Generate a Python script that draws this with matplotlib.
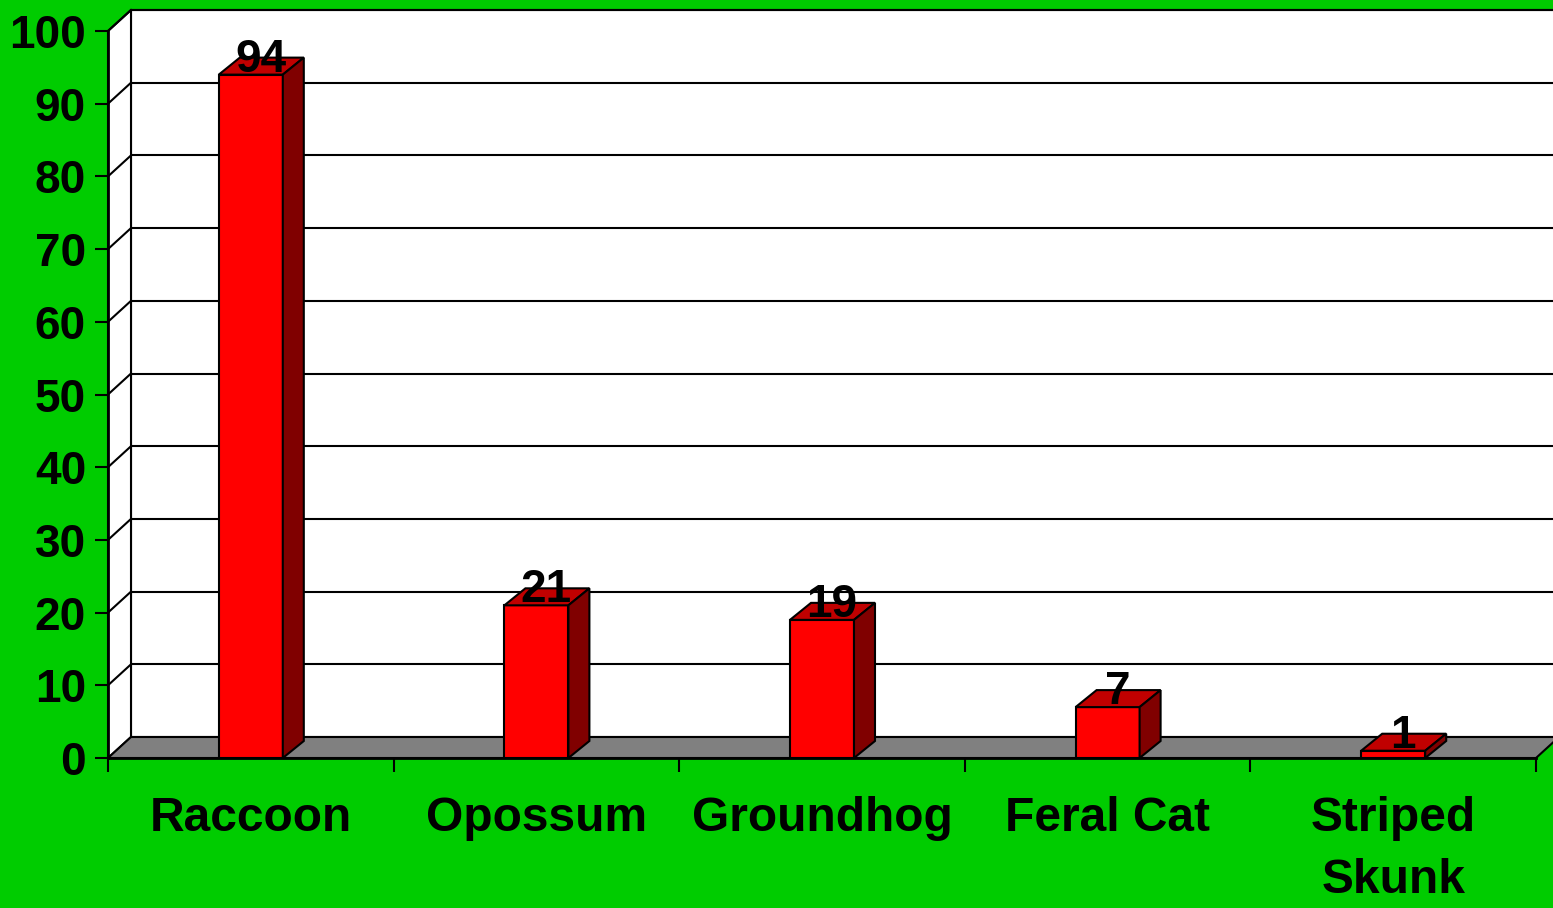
import matplotlib
matplotlib.use('Agg')
import matplotlib.pyplot as plt
from matplotlib.patches import Polygon

# ---- data ----
categories = ['Raccoon', 'Opossum', 'Groundhog', 'Feral Cat', 'Striped\nSkunk']
values = [94, 21, 19, 7, 1]
y_ticks = [0, 10, 20, 30, 40, 50, 60, 70, 80, 90, 100]

# ---- style ----
BG = '#00CC00'
FRONT = '#FF0000'
TOP = '#C00000'
SIDE = '#800000'
FLOOR = '#808080'
LW = 1.5

plt.rcParams['font.family'] = ['Liberation Sans', 'DejaVu Sans']
plt.rcParams['font.weight'] = 'bold'

W, H, DPI = 1553, 908, 100
fig = plt.figure(figsize=(W / DPI, H / DPI), dpi=DPI, facecolor=BG)
ax = fig.add_axes([108 / W, (H - 758) / H, (1536 - 108) / W, (758 - 31) / H])
n = len(categories)
x0, x1 = -0.5, n - 0.5
ymax = y_ticks[-1]
ax.set_xlim(x0, x1)
ax.set_ylim(0, ymax)
ax.patch.set_visible(False)

# pixel -> data conversion for the pseudo-3D depth
px_per_x = (1536 - 108) / (x1 - x0)
px_per_y = (758 - 31) / ymax


def depth(dx_px, dy_px):
    return dx_px / px_per_x, dy_px / px_per_y


wdx, wdy = depth(23, 21)   # wall depth
bdx, bdy = depth(21, 17)   # bar depth
bw = 64 / px_per_x         # bar width


def poly(pts, fc, z):
    ax.add_patch(Polygon(pts, closed=True, facecolor=fc, edgecolor='black',
                         linewidth=LW, clip_on=False, zorder=z, joinstyle='miter'))


# back wall
poly([(x0 + wdx, wdy), (x1 + wdx, wdy), (x1 + wdx, ymax + wdy), (x0 + wdx, ymax + wdy)], 'white', 1)
# left wall
poly([(x0, 0), (x0, ymax), (x0 + wdx, ymax + wdy), (x0 + wdx, wdy)], 'white', 1)
# gridlines
for v in y_ticks[1:]:
    ax.plot([x0 + wdx, x1 + wdx + 1], [v + wdy, v + wdy], color='black', lw=LW,
            clip_on=False, zorder=2, solid_capstyle='butt')
    ax.plot([x0, x0 + wdx], [v, v + wdy], color='black', lw=LW, clip_on=False, zorder=2)
# floor
poly([(x0, 0), (x1, 0), (x1 + wdx, wdy), (x0 + wdx, wdy)], FLOOR, 2)

# bars
for i, v in enumerate(values):
    l, r = i - bw / 2, i + bw / 2
    poly([(l, 0), (r, 0), (r, v), (l, v)], FRONT, 3)
    poly([(l, v), (r, v), (r + bdx, v + bdy), (l + bdx, v + bdy)], TOP, 3)
    poly([(r, 0), (r + bdx, bdy), (r + bdx, v + bdy), (r, v)], SIDE, 3)
    ax.annotate(str(v), xy=(i, v), xytext=(10 * 0.72, 3 * 0.72), textcoords='offset points',
                ha='center', va='baseline', fontsize=33, fontweight='bold', zorder=6,
                annotation_clip=False)

# spines and ticks
for s in ('top', 'right'):
    ax.spines[s].set_visible(False)
for s in ('left', 'bottom'):
    ax.spines[s].set_linewidth(2)
    ax.spines[s].set_zorder(4)

ax.set_yticks(y_ticks)
ax.set_yticklabels([str(t) for t in y_ticks])
ax.tick_params(axis='y', direction='out', length=13 * 0.72, width=LW, pad=9 * 0.72,
               labelsize=33)

boundaries = [x0 + k for k in range(n + 1)]
ax.set_xticks(boundaries)
ax.set_xticklabels([''] * len(boundaries))
ax.tick_params(axis='x', which='major', direction='out', length=14 * 0.72, width=LW)
ax.set_xticks(range(n), minor=True)
ax.set_xticklabels(categories, minor=True, fontsize=34.5, fontweight='bold', linespacing=1.47)
ax.tick_params(axis='x', which='minor', length=0, pad=27.5)

fig.savefig('out.png', dpi=DPI, facecolor=BG)
